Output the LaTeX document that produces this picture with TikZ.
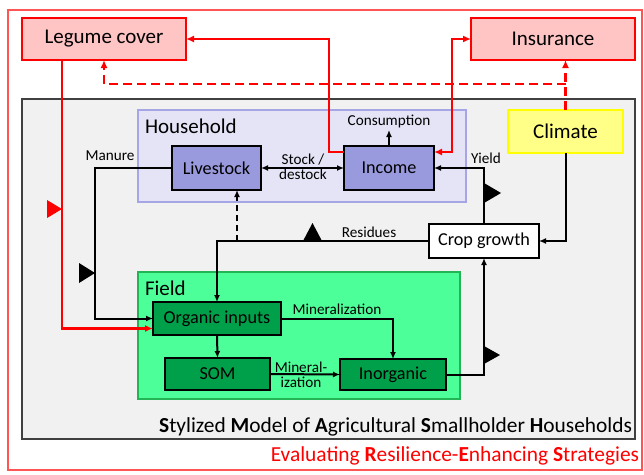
\documentclass[tikz,border=0pt]{standalone}
\usepackage{fontspec}
\setmainfont{Carlito}
\usetikzlibrary{arrows.meta,calc}
\definecolor{redl}{HTML}{FF0000}
\definecolor{framered}{HTML}{FF5555}
\definecolor{pinkfill}{HTML}{FFC4C4}
\definecolor{grayfill}{HTML}{F1F1F1}
\definecolor{grayline}{HTML}{404040}
\definecolor{hhfill}{HTML}{E4E4F6}
\definecolor{hhline}{HTML}{A6A6E6}
\definecolor{purplefill}{HTML}{9999DD}
\definecolor{yelfill}{HTML}{FFFF88}
\definecolor{yelline}{HTML}{FFFF00}
\definecolor{fieldfill}{HTML}{4DFF99}
\definecolor{fieldline}{HTML}{22B455}
\definecolor{darkgreen}{HTML}{00A04A}
\newcommand{\bigf}{\fontsize{21}{25}\selectfont}
\newcommand{\midf}{\fontsize{18.2}{21}\selectfont}
\newcommand{\smf}{\fontsize{15.2}{16}\selectfont}
\newcommand{\titf}{\fontsize{21.4}{25}\selectfont}
\begin{document}
\begin{tikzpicture}[x=1pt,y=-1pt,
  every node/.style={inner sep=0pt,outer sep=0pt},
  bl/.style={draw=black,line width=2pt,-{Latex[length=7pt,width=6pt]}},
  rl/.style={draw=redl,line width=2.6pt,-{Latex[length=8pt,width=7pt]}},
  rd/.style={rl,dash pattern=on 9pt off 5pt},
  lbl/.style={font=\smf,align=center}]
\useasboundingbox (0,0) rectangle (644,474);
% outer frame
\node[draw=framered,line width=1.5pt,minimum width=634pt,minimum height=460pt] (frame) at (325,240) {};
\node[anchor=base east,text=redl,font=\titf] (evalt) at (639,461) {Evaluating {\bfseries R}esilience-{\bfseries E}nhancing {\bfseries S}trategies};
% main gray box
\node[draw=grayline,fill=grayfill,line width=1.2pt,minimum width=613pt,minimum height=340pt] (model) at (328.5,269) {};
\node[anchor=base east,font=\titf] (modelt) at (632,432) {{\bfseries S}tylized {\bfseries M}odel of {\bfseries A}gricultural {\bfseries S}mallholder {\bfseries H}ouseholds};
% strategies
\node[draw=redl,fill=pinkfill,line width=2pt,minimum width=164pt,minimum height=42pt,font=\bigf] (legume) at (104,39) {Legume cover};
\node[draw=redl,fill=pinkfill,line width=2pt,minimum width=164pt,minimum height=42pt,font=\bigf] (insur) at (553,39) {Insurance};
% household
\node[draw=hhline,fill=hhfill,line width=2pt,minimum width=328pt,minimum height=92pt] (hh) at (302,156) {};
\node[anchor=west,font=\bigf] (hht) at (145,126) {Household};
\node[draw=black,fill=purplefill,line width=1.2pt,minimum width=89pt,minimum height=44pt,font=\midf] (livestock) at (216.5,168) {Livestock};
\node[draw=black,fill=purplefill,line width=1.2pt,minimum width=90pt,minimum height=44pt,font=\midf] (income) at (389,168) {Income};
% climate and crop
\node[draw=yelline,fill=yelfill,line width=2pt,minimum width=115pt,minimum height=43pt,font=\bigf] (climate) at (565.5,131.5) {Climate};
\node[draw=black,fill=white,line width=1.2pt,minimum width=110pt,minimum height=34pt,font=\midf] (crop) at (484,241) {Crop growth};
% field
\node[draw=fieldline,fill=fieldfill,line width=2pt,minimum width=322pt,minimum height=127pt] (field) at (299,335.5) {};
\node[anchor=west,font=\bigf] (fieldt) at (145,288) {Field};
\node[draw=black,fill=darkgreen,line width=1.2pt,minimum width=128pt,minimum height=33pt,font=\midf] (organic) at (217,318.5) {Organic inputs};
\node[draw=black,fill=darkgreen,line width=1.2pt,minimum width=105pt,minimum height=32pt,font=\midf] (som) at (217.5,374) {SOM};
\node[draw=black,fill=darkgreen,line width=1.2pt,minimum width=106pt,minimum height=31pt,font=\midf] (inorg) at (393,374.5) {Inorganic};
% red connectors
\draw[rl] ($(income.north west)+(0,6)$) -- ++(-15,0) |- (legume.east);
\draw[rl,{Latex[length=8pt,width=7pt]}-{Latex[length=8pt,width=7pt]}] ($(income.north east)+(0,6)$) -- ++(18,0) |- (insur.west);
\coordinate (dj) at (565.5,84);
\draw[rd] (climate.north) -- (climate.north |- insur.south);
\draw[rd] (dj) -| (legume.south);
\draw[rl] ($(legume.south west)+(40,0)$) |- ($(organic.west)+(0,10)$);
\fill[redl] (47,200) -- (62,209) -- (47,218) -- cycle;
% black connectors
\draw[bl] (livestock.west) -- ++(-77,0) |- (organic.west);
\fill[black] (79,263) -- (95,273) -- (79,283) -- cycle;
\node[lbl] (manure) at (110,156) {Manure};
\draw[bl,{Latex[length=7pt,width=6pt]}-{Latex[length=7pt,width=6pt]}] (livestock.east) -- (income.west);
\node[lbl] (stock) at (303,167) {Stock /\\[-1pt]destock};
\draw[bl] (income.north) -- ++(0,-16) coordinate (cons);
\node[lbl] (consumption) at (389,121) {Consumption};
\draw[bl] (crop.north) |- (income.east);
\fill[black] (484,183) -- (501,193) -- (484,203) -- cycle;
\node[lbl] (yield) at (486,158) {Yield};
\draw[bl] (climate.south) |- (crop.east);
\draw[bl] (crop.west) -| (organic.north);
\fill[black] (303,241) -- (312.5,223) -- (322,241) -- cycle;
\node[lbl] (residues) at (369,232) {Residues};
\coordinate (rj) at (237,241);
\draw[bl,dash pattern=on 6pt off 4pt] (rj) -- (rj |- livestock.south);
\draw[bl] (organic.south) -- (som.north);
\draw[bl] (organic.east) -| (inorg.north);
\node[lbl] (mineral) at (337,309) {Mineralization};
\draw[bl] (som.east) -- (inorg.west);
\node[lbl] (mineral2) at (301,375) {Mineral-\\[-1pt]ization};
\draw[bl] (inorg.east) -| (crop.south);
\fill[black] (484,346) -- (500,355) -- (484,364) -- cycle;
\end{tikzpicture}
\end{document}
